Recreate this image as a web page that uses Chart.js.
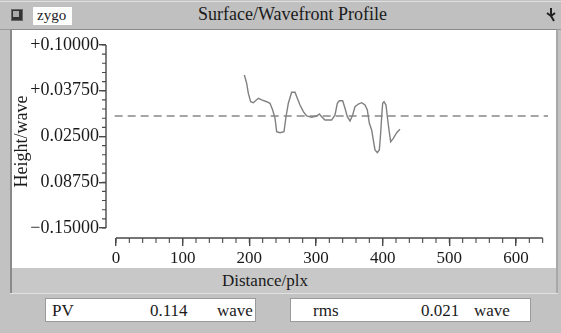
<!DOCTYPE html>
<html><head><meta charset="utf-8">
<script src="https://cdn.jsdelivr.net/npm/chart.js@4.4.1/dist/chart.umd.min.js"></script>
<style>
html,body{margin:0;padding:0}
body{width:561px;height:333px;background:#c2c2c2;position:relative;overflow:hidden;font-family:"Liberation Serif","Times New Roman",serif;color:#1a1a1a}
.abs{position:absolute}
#titlebar{left:0;top:1px;width:561px;height:27px;background:#c0c0c0;border-top:1px solid #e0e0e0;border-bottom:1px solid #9a9a9a}
#frame{left:10px;top:29px;width:548px;height:264px;background:#c8c8c8;border-left:2px solid #8a8a8a;border-top:1px solid #8a8a8a;border-right:2px solid #a8a8a8;box-sizing:border-box}
#white{left:12px;top:30px;width:544px;height:238px;background:#fff}
.box{background:#fff;border:1px solid #9a9a9a;height:24px;top:298px;box-sizing:border-box;font-size:17px;line-height:23px}
.box span{position:absolute;top:0}
</style></head>
<body>
<div id="titlebar" class="abs"></div>
<div class="abs" style="left:11px;top:9px;width:10px;height:10px;background:#333;border:1px solid #666"></div>
<div class="abs" style="left:13px;top:11px;width:6px;height:6px;background:#aaa"></div>
<div class="abs" style="left:33px;top:7px;width:39px;height:18px;background:#fff;font-size:15px;line-height:17px;text-indent:4px">zygo</div>
<div class="abs" style="left:198px;top:4px;font-size:18px;line-height:20px">Surface/Wavefront Profile</div>
<svg class="abs" style="left:544px;top:7px" width="14" height="16" viewBox="0 0 14 16"><path d="M7 1 L7 9 M3 6 L7 9 L11 6 M7 9 L10 14" stroke="#222" stroke-width="2" fill="none"/></svg>
<div id="frame" class="abs"></div>
<div id="white" class="abs"></div>
<div class="abs" style="left:222px;top:271px;font-size:17px;line-height:20px">Distance/plx</div>
<div class="abs" style="left:10px;top:293px;width:548px;height:1px;background:#e2e2e2"></div>
<div class="abs box" style="left:45px;width:211px"><span style="left:6px">PV</span><span style="left:104px">0.114</span><span style="left:171px">wave</span></div>
<div class="abs box" style="left:290px;width:241px"><span style="left:22px">rms</span><span style="left:130px">0.021</span><span style="left:183px">wave</span></div>
<div class="abs" style="left:0;top:0;width:561px;height:333px"><canvas id="c" width="561" height="333"></canvas></div>
<script>
// ---- data ----
const xValues = [192.5,196,198.5,202,206,213.5,218.5,226,231,235,238.5,241,246,252,255,258.5,263.5,268.5,272,276,281,286,293.5,301,305,308.5,313.5,323.5,328.5,332,335,340,343.5,347,351,355,358.5,363.5,368.5,373.5,377,380,383.5,386,388.5,392,395,397,398.5,400,402,405,407,409.5,412,416,421,426];
const yValues = [0.059,0.0477,0.034,0.0225,0.0212,0.0272,0.0249,0.0225,0.0204,0.0112,-0.0001,-0.0184,-0.0198,-0.0184,0.002,0.0204,0.0354,0.0354,0.0272,0.018,0.0089,0.003,0.0012,0.003,0.0057,0.002,-0.0025,-0.0025,0.0044,0.0204,0.0239,0.0239,0.0135,0.002,-0.0038,0.0044,0.0157,0.0194,0.0212,0.018,0.0112,-0.007,-0.0161,-0.0298,-0.0434,-0.0471,-0.0434,-0.0206,0.002,0.0204,0.0225,0.018,0.002,-0.0161,-0.0321,-0.0275,-0.0198,-0.0152];
const refLineValue = 0.003;
const refLineX = [-2, 648];
const yTickValues = [-0.15, -0.0875, -0.025, 0.0375, 0.1];
const yTickLabels = ['\u22120.15000', '0.08750', '0.02500', '+0.03750', '+0.10000'];
const xTickValues = [0, 100, 200, 300, 400, 500, 600];
const xTickLabels = ['0', '100', '200', '300', '400', '500', '600'];
const xAxisRange = [0, 640], xMinorStep = 20;
const yAxisRange = [-0.15, 0.1], yMinorStep = 0.0125;

const axisColor = '#4a4a4a';
const zygoAxes = {
  id: 'zygoAxes',
  afterDraw(chart) {
    const {ctx, chartArea, scales: {x, y}} = chart;
    ctx.save();
    ctx.strokeStyle = axisColor; ctx.lineWidth = 1.4;
    const yx = chartArea.left, xy = chartArea.bottom;
    ctx.beginPath();
    ctx.moveTo(yx, y.getPixelForValue(yAxisRange[1])); ctx.lineTo(yx, y.getPixelForValue(yAxisRange[0]));
    ctx.moveTo(x.getPixelForValue(xAxisRange[0]), xy); ctx.lineTo(x.getPixelForValue(xAxisRange[1]), xy);
    ctx.stroke();
    ctx.lineWidth = 1.1;
    ctx.beginPath();
    const ny = Math.round((yAxisRange[1] - yAxisRange[0]) / yMinorStep);
    for (let i = 0; i <= ny; i++) {
      const py = y.getPixelForValue(yAxisRange[0] + i * yMinorStep);
      ctx.moveTo(yx - 4, py); ctx.lineTo(yx, py);
    }
    const nx = Math.round((xAxisRange[1] - xAxisRange[0]) / xMinorStep);
    for (let i = 0; i <= nx; i++) {
      const px = x.getPixelForValue(xAxisRange[0] + i * xMinorStep);
      ctx.moveTo(px, xy); ctx.lineTo(px, xy + 5);
    }
    ctx.stroke();
    ctx.restore();
  }
};

new Chart(document.getElementById('c'), {
  type: 'line',
  data: {
    datasets: [
      { data: xValues.map((v, i) => ({x: v, y: yValues[i]})), borderColor: '#808080', borderWidth: 1.4, pointRadius: 0, tension: 0 },
      { data: refLineX.map(v => ({x: v, y: refLineValue})), borderColor: '#888', borderWidth: 1.5, borderDash: [8, 5], pointRadius: 0 }
    ]
  },
  options: {
    responsive: false, animation: false, devicePixelRatio: 1,
    layout: { padding: { left: 0, top: 45, right: 13, bottom: 0 } },
    plugins: { legend: { display: false }, tooltip: { enabled: false } },
    scales: {
      x: {
        type: 'linear', min: -15, max: 648,
        afterBuildTicks: s => { s.ticks = xTickValues.map(v => ({value: v})); },
        afterFit: s => { s.height = 95; },
        border: { display: false },
        grid: { drawOnChartArea: false, drawTicks: true, tickLength: 8, color: axisColor, lineWidth: 1.4 },
        ticks: { autoSkip: false, maxRotation: 0, padding: 2, color: '#1a1a1a', font: { family: 'Liberation Serif', size: 17 },
          callback: v => xTickLabels[xTickValues.indexOf(v)] }
      },
      y: {
        type: 'linear', min: -0.16366, max: 0.1,
        afterBuildTicks: s => { s.ticks = yTickValues.map(v => ({value: v})); },
        afterFit: s => { s.width = 106; },
        border: { display: false },
        grid: { drawOnChartArea: false, drawTicks: true, tickLength: 7, color: axisColor, lineWidth: 1.4 },
        ticks: { padding: 0, color: '#1a1a1a', font: { family: 'Liberation Serif', size: 18 },
          callback: v => yTickLabels[yTickValues.indexOf(v)] },
        title: { display: true, text: 'Height/wave', color: '#1a1a1a', font: { family: 'Liberation Serif', size: 18 }, padding: { top: 11, bottom: 0 } }
      }
    }
  },
  plugins: [zygoAxes]
});
</script>
</body></html>
